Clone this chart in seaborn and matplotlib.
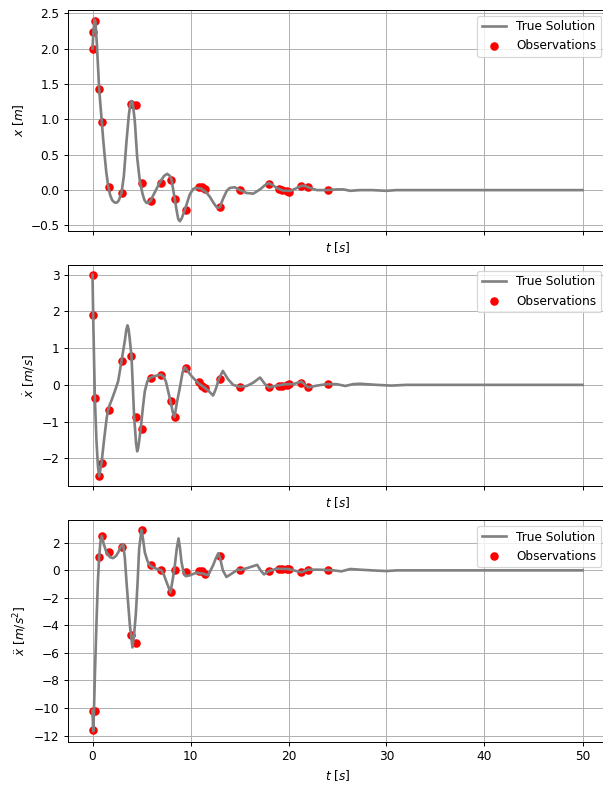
import matplotlib
matplotlib.use("Agg")
import matplotlib.pyplot as plt
import matplotlib.ticker as mticker
import seaborn as sns

# observations (shared time stamps)
t_obs = [0.0, 0.1, 0.3, 0.7, 1.0, 1.7, 3.0, 3.9, 4.4, 5.0, 6.0, 6.95, 8.0, 8.4,
         9.5, 10.85, 11.2, 11.5, 13.0, 15.1, 18.0, 19.0, 19.3, 19.8, 20.0, 21.3, 22.0, 24.0]
x_obs = [2.0, 2.23, 2.39, 1.43, 0.96, 0.05, -0.04, 1.21, 1.20, 0.10, -0.15, 0.10, 0.14, -0.13,
         -0.28, 0.04, 0.04, 0.02, -0.24, 0.0, 0.08, 0.01, 0.0, -0.01, -0.02, 0.06, 0.05, 0.0]
v_obs = [3.0, 1.9, -0.36, -2.48, -2.12, -0.68, 0.65, 0.79, -0.87, -1.19, 0.2, 0.27, -0.44, -0.88,
         0.47, 0.07, -0.02, -0.09, 0.17, -0.05, -0.07, -0.03, -0.02, 0.0, 0.02, 0.06, -0.07, 0.02]
a_obs = [-10.2, -11.6, -10.25, 1.0, 2.49, 1.32, 1.72, -4.72, -5.25, 2.95, 0.36, 0.0, -1.58, 0.0,
         -0.1, -0.02, -0.07, -0.24, 1.05, 0.02, -0.07, 0.08, 0.1, 0.1, 0.08, -0.14, 0.0, 0.0]

# true solution
t_pos = [0.0, 0.1, 0.2, 0.3, 0.45, 0.68, 0.95, 1.1, 1.26, 1.4, 1.6, 1.8, 2.0, 2.2, 2.38, 2.55,
         2.7, 2.96, 3.2, 3.47, 3.7, 3.85, 3.98, 4.08, 4.15, 4.32, 4.56, 4.83, 5.1, 5.3, 5.5,
         5.7, 5.92, 6.4, 6.87, 7.3, 7.62, 7.9, 8.06, 8.4, 8.6, 8.75, 8.91, 9.1, 9.42, 9.93,
         10.3, 10.6, 11.1, 11.6, 12.0, 12.3, 12.6, 12.8, 13.0, 13.3, 13.7, 14.0, 14.5, 15.07,
         15.7, 16.4, 17.1, 17.6, 17.96, 18.4, 18.8, 19.5, 20.2, 20.7, 21.3, 21.7, 22.0, 22.9,
         23.9, 25.0, 25.6, 26.3, 27.3, 28.5, 30.0, 31.0, 35.0, 40.0, 45.0, 50.0]
x_pos = [2.00, 2.25, 2.41, 2.38, 2.05, 1.43, 0.96, 0.70, 0.46, 0.26, 0.06, -0.07, -0.14, -0.17,
         -0.18, -0.17, -0.14, -0.04, 0.20, 0.69, 1.05, 1.21, 1.26, 1.24, 1.18, 0.97, 0.46, 0.13,
         -0.05, -0.14, -0.18, -0.18, -0.15, -0.02, 0.11, 0.20, 0.23, 0.20, 0.15, -0.13, -0.30,
         -0.41, -0.44, -0.40, -0.28, -0.06, 0.02, 0.03, 0.02, -0.03, -0.10, -0.17, -0.23, -0.25,
         -0.24, -0.13, -0.01, 0.03, 0.04, 0.0, -0.04, -0.05, 0.01, 0.07, 0.10, 0.07, 0.03, -0.01,
         -0.01, 0.02, 0.06, 0.06, 0.04, 0.0, 0.0, 0.01, 0.01, -0.01, 0.0, 0.0, -0.01, 0.0, 0.0,
         0.0, 0.0, 0.0]

t_vel = [0.0, 0.07, 0.15, 0.24, 0.4, 0.55, 0.68, 0.92, 1.2, 1.45, 1.6, 1.75, 2.0, 2.28, 2.62,
         2.96, 3.3, 3.45, 3.57, 3.68, 3.78, 3.98, 4.25, 4.45, 4.56, 4.66, 4.75, 4.93, 5.15, 5.34,
         5.6, 5.85, 6.36, 6.97, 7.25, 7.48, 7.7, 7.96, 8.2, 8.37, 8.6, 8.91, 9.2, 9.42, 9.7,
         10.1, 10.78, 11.46, 11.9, 12.31, 12.6, 12.9, 13.3, 13.84, 14.35, 14.86, 15.07, 15.75,
         16.4, 16.8, 17.1, 17.6, 18.0, 18.8, 19.8, 20.5, 21.3, 22.0, 22.9, 23.9, 24.9, 25.8,
         26.6, 27.3, 29.0, 30.5, 32.0, 35.0, 40.0, 45.0, 50.0]
v_vel = [3.0, 1.89, 0.8, -0.35, -1.5, -2.2, -2.49, -2.13, -1.45, -0.9, -0.67, -0.55, -0.38,
         -0.17, 0.1, 0.65, 1.2, 1.5, 1.62, 1.52, 1.3, 0.78, -0.88, -1.6, -1.81, -1.72, -1.55,
         -1.17, -0.6, -0.17, 0.10, 0.19, 0.24, 0.28, 0.22, 0.10, -0.15, -0.45, -0.75, -0.88,
         -0.5, -0.08, 0.35, 0.48, 0.38, 0.24, 0.05, -0.08, -0.18, -0.29, -0.1, 0.17, 0.38, 0.15,
         0.0, -0.04, -0.05, -0.03, 0.06, 0.14, 0.2, 0.02, -0.07, -0.02, 0.02, 0.02, 0.09, -0.07,
         -0.02, 0.02, 0.02, -0.03, 0.02, 0.03, 0.0, -0.02, 0.0, 0.0, 0.0, 0.0, 0.0]

t_acc = [0.0, 0.07, 0.1, 0.25, 0.41, 0.55, 0.68, 0.8, 0.95, 1.15, 1.43, 1.8, 2.1, 2.4, 2.62,
         2.9, 3.13, 3.3, 3.47, 3.65, 3.81, 4.08, 4.25, 4.42, 4.6, 4.76, 5.0, 5.15, 5.34, 5.6,
         5.85, 6.2, 6.53, 7.04, 7.3, 7.55, 7.96, 8.2, 8.4, 8.6, 8.78, 8.93, 9.08, 9.3, 9.52,
         9.93, 10.6, 11.3, 11.8, 12.3, 12.6, 12.85, 13.05, 13.3, 13.67, 14.35, 14.86, 15.07,
         15.9, 16.8, 17.15, 17.5, 18.0, 18.8, 20.0, 21.3, 22.0, 23.2, 24.6, 25.4, 26.3, 27.3,
         28.5, 30.0, 31.0, 35.0, 40.0, 45.0, 50.0]
a_acc = [-10.2, -11.7, -11.5, -7.5, -3.7, -0.8, 0.96, 2.0, 2.5, 1.9, 1.3, 0.95, 0.89, 1.05,
         1.3, 1.75, 1.9, 0.9, -0.84, -2.5, -3.95, -5.6, -4.6, -3.2, -0.9, 1.56, 2.95, 2.3, 1.3,
         0.7, 0.36, 0.2, 0.12, 0.0, -0.35, -0.84, -1.6, -0.6, 0.36, 1.6, 2.32, 1.6, 0.6, -0.15,
         -0.42, -0.36, -0.17, -0.24, -0.36, 0.36, 0.9, 1.25, 0.8, 0.0, -0.48, -0.17, 0.07, 0.02,
         0.19, 0.4, 0.0, -0.29, -0.05, 0.12, 0.1, -0.14, 0.05, 0.05, 0.0, -0.07, 0.1, 0.05, 0.0,
         -0.05, 0.0, 0.0, 0.0, 0.0, 0.0]

panels = [
    (t_pos, x_pos, x_obs, r"$x\ [m]$"),
    (t_vel, v_vel, v_obs, r"$\dot{x}\ [m/s]$"),
    (t_acc, a_acc, a_obs, r"$\ddot{x}\ [m/s^2]$"),
]

DPI = 87
fig, axes = plt.subplots(3, 1, figsize=(603 / DPI, 787 / DPI), dpi=DPI)
# right edge of the axes runs slightly past the picture, as in the reference crop
fig.subplots_adjust(left=68 / 603, right=607 / 603, top=1 - 9.5 / 787,
                    bottom=1 - 741.5 / 787, hspace=0.15)

for i, (ax, (t_line, y_line, y_obs, ylab)) in enumerate(zip(axes, panels)):
    sns.lineplot(x=t_line, y=y_line, ax=ax, color="gray", linewidth=2.2,
                 label="True Solution", sort=False)
    sns.scatterplot(x=t_obs, y=y_obs, ax=ax, color="red", s=50, linewidth=0,
                    label="Observations", zorder=1.8)
    ax.grid(True)
    ax.set_xlim(-2.5, 52.5)
    ax.xaxis.set_major_locator(mticker.MultipleLocator(10))
    ax.set_ylabel(ylab)
    ax.set_xlabel(r"$t\ [s]$")
    if i < 2:
        ax.tick_params(axis="x", labelbottom=False)
    ax.legend(loc="upper right")

axes[2].yaxis.set_major_locator(mticker.MultipleLocator(2))

fig.savefig("out.png", dpi=DPI)
